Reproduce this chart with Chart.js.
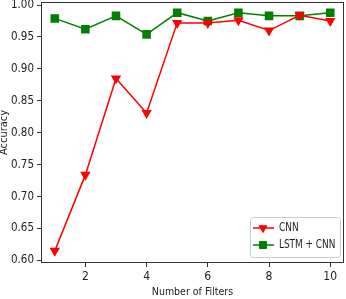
<!DOCTYPE html>
<html>
<head>
<meta charset="utf-8">
<script src="https://cdn.jsdelivr.net/npm/chart.js@4.4.0/dist/chart.umd.min.js"></script>
<style>
  html, body { margin: 0; padding: 0; background: #fff; }
  #wrap { width: 346px; height: 299px; }
</style>
</head>
<body>
<div id="wrap"><canvas id="c" width="346" height="299"></canvas></div>
<script>
// data
const filters = [1, 2, 3, 4, 5, 6, 7, 8, 9, 10];
const cnnAcc = [0.615, 0.734, 0.885, 0.831, 0.972, 0.972, 0.976, 0.960, 0.984, 0.975];
const lstmCnnAcc = [0.979, 0.962, 0.983, 0.954, 0.988, 0.975, 0.988, 0.983, 0.983, 0.988];
const xTicks = [2, 4, 6, 8, 10];
const yTicks = [0.60, 0.65, 0.70, 0.75, 0.80, 0.85, 0.90, 0.95, 1.00];

const FONT = "'DejaVu Sans Condensed', 'Liberation Sans Narrow', sans-serif";

// frame around the plot + legend in lower right
const framePlugin = {
    id: 'frame',
    afterDraw(chart) {
        const ctx = chart.ctx;
        const a = chart.chartArea;
        ctx.save();
        ctx.strokeStyle = '#333';
        ctx.lineWidth = 1;
        ctx.strokeRect(a.left + 0.5, a.top + 0.5, a.right - a.left - 1, a.bottom - a.top - 1);

        // legend box
        const bx = 250, by = 217, bw = 90, bh = 40;
        ctx.fillStyle = 'rgba(255,255,255,0.8)';
        ctx.strokeStyle = '#ccc';
        ctx.beginPath();
        ctx.roundRect(bx + 0.5, by + 0.5, bw, bh, 3);
        ctx.fill();
        ctx.stroke();

        chart.data.datasets.forEach((ds, i) => {
            const y = by + 11 + i * 17;
            ctx.strokeStyle = ds.borderColor;
            ctx.fillStyle = ds.borderColor;
            ctx.lineWidth = ds.borderWidth;
            ctx.beginPath();
            ctx.moveTo(bx + 3, y);
            ctx.lineTo(bx + 24, y);
            ctx.stroke();
            ctx.lineWidth = 1;
            Chart.helpers.drawPoint(ctx, {
                pointStyle: ds.pointStyle,
                rotation: ds.pointRotation || 0,
                radius: ds.pointRadius,
                borderWidth: 1
            }, bx + 13, y);
            ctx.fillStyle = '#222';
            ctx.font = '11px ' + FONT;
            ctx.textBaseline = 'middle';
            ctx.textAlign = 'left';
            ctx.save();
            ctx.translate(bx + 29, y);
            ctx.scale(0.9, 1.05);
            ctx.fillText(ds.label, 0, 0);
            ctx.restore();
        });
        ctx.restore();
    }
};

function prepPoint(color) {
    return { backgroundColor: color, pointBackgroundColor: color, pointBorderColor: color };
}

new Chart(document.getElementById('c').getContext('2d'), {
    type: 'line',
    data: {
        datasets: [
            Object.assign({
                label: 'CNN',
                data: filters.map((x, i) => ({ x: x, y: cnnAcc[i] })),
                borderColor: '#ff0000',
                borderWidth: 1.5,
                pointStyle: 'triangle',
                pointRotation: 180,
                pointRadius: 4.5,
                tension: 0
            }, prepPoint('#ff0000')),
            Object.assign({
                label: 'LSTM + CNN',
                data: filters.map((x, i) => ({ x: x, y: lstmCnnAcc[i] })),
                borderColor: '#008000',
                borderWidth: 1.5,
                pointStyle: 'rect',
                pointRadius: 5,
                tension: 0
            }, prepPoint('#008000'))
        ]
    },
    options: {
        responsive: false,
        animation: false,
        layout: { autoPadding: false, padding: { top: 2, right: 2, left: 0, bottom: 0 } },
        plugins: { legend: { display: false }, tooltip: { enabled: false } },
        scales: {
            x: {
                type: 'linear',
                min: 0.55,
                max: 10.45,
                afterBuildTicks: s => { s.ticks = xTicks.map(v => ({ value: v })); },
                afterFit: s => { s.height = 36; s.paddingLeft = 0; s.paddingRight = 0; },
                grid: { drawOnChartArea: false, drawTicks: true, tickLength: 4, color: '#333' },
                border: { display: false },
                ticks: { color: '#222', font: { family: FONT, size: 12 }, padding: 3, maxRotation: 0 },
                title: { display: true, text: 'Number of Filters', color: '#222', font: { family: FONT, size: 10.5 }, padding: { top: 3, bottom: 0 } }
            },
            y: {
                min: 0.596,
                max: 1.0047,
                afterBuildTicks: s => { s.ticks = yTicks.map(v => ({ value: v })); },
                afterFit: s => { s.width = 41; s.paddingTop = 0; s.paddingBottom = 0; },
                grid: { drawOnChartArea: false, drawTicks: true, tickLength: 4, color: '#333' },
                border: { display: false },
                ticks: { color: '#222', font: { family: FONT, size: 11.5 }, padding: 3, callback: v => v.toFixed(2) },
                title: { display: true, text: 'Accuracy', color: '#222', font: { family: FONT, size: 11 }, padding: { top: -2, bottom: 0 } }
            }
        }
    },
    plugins: [framePlugin]
});
</script>
</body>
</html>
